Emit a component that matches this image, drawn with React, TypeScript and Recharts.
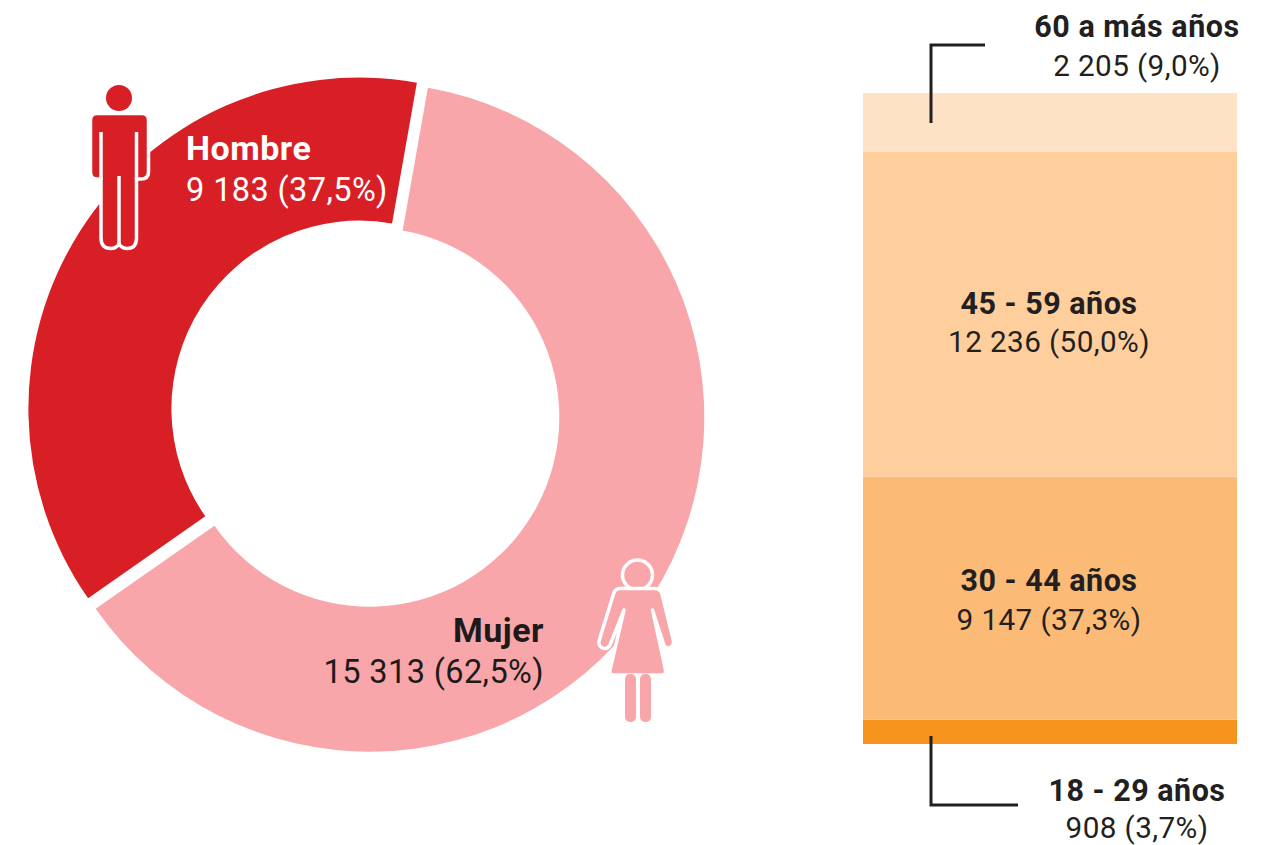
import { Bar, BarChart, Cell, Pie, PieChart, XAxis, YAxis } from "recharts";

const sexes = ["Mujer", "Hombre"];
const sexCounts = [15313, 9183];
const sexPercents = ["62,5%", "37,5%"];

// bottom of the stack first
const ageGroups = ["18 - 29 años", "30 - 44 años", "45 - 59 años", "60 a más años"];
const ageCounts = [908, 9147, 12236, 2205];
const agePercents = ["3,7%", "37,3%", "50,0%", "9,0%"];

const SEX_COLORS = ["#f8a6a9", "#d81f26"];
const AGE_COLORS = ["#f7941d", "#fbbb77", "#fecf9d", "#fee2c6"];
const INK = "#231f20";

const pieData = sexes.map((name, i) => ({ name, value: sexCounts[i] }));
const stackRow: Record<string, string | number> = { row: "edad" };
ageGroups.forEach((g, i) => {
  stackRow[g] = ageCounts[i];
});
const ageTotal = ageCounts.reduce((a, b) => a + b, 0);

const fmt = (n: number) => String(n).replace(/\B(?=(\d{3})+$)/g, " ");
const valueLine = (n: number, pct: string) => `${fmt(n)} (${pct})`;

const fontFamily = "Roboto, sans-serif";

function Label({
  x,
  y,
  title,
  value,
  anchor,
  color = INK,
  titleSize = 30.5,
  valueSize = 29.7,
  gap = 38.5,
}: {
  x: number;
  y: number;
  title: string;
  value: string;
  anchor: "start" | "middle" | "end";
  color?: string;
  titleSize?: number;
  valueSize?: number;
  gap?: number;
}) {
  return (
    <g fill={color} textAnchor={anchor} fontFamily={fontFamily}>
      <text x={x} y={y} fontSize={titleSize} fontWeight={700} letterSpacing={0.5}>
        {title}
      </text>
      <text x={x} y={y + gap} fontSize={valueSize} fontWeight={400} letterSpacing={0.4}>
        {value}
      </text>
    </g>
  );
}

function ManIcon() {
  const red = SEX_COLORS[1];
  return (
    <g>
      <circle cx={119} cy={98} r={13} fill={red} />
      <path
        d="M90.5 120 Q90.5 113.5 97 113.5 H142 Q148.5 113.5 148.5 120 V172 Q148.5 179 141 179 H136.5 V238 Q136.5 248.5 127 248.5 Q122 248.5 119 244 Q116 248.5 111 248.5 Q101 248.5 101 238 V179 H97 Q90.5 179 90.5 172 Z"
        fill={red}
        stroke="#fff"
        strokeWidth={3.5}
      />
      <path d="M101 132 V179 M136.5 132 V179 M119 176 V245" fill="none" stroke="#fff" strokeWidth={3.5} />
    </g>
  );
}

function WomanIcon() {
  const pink = SEX_COLORS[0];
  return (
    <g>
      <circle cx={637.5} cy={575} r={15} fill={pink} stroke="#fff" strokeWidth={3.5} />
      <path
        d="M620 588.5 H655 Q660 588.5 662 594 L673.5 641 Q674 647 668.5 648 Q665 648 663.5 644 L652.5 610 L665.5 670 Q666 675 662 675 H613 Q609 675 610 670 L624 610 L610 645 Q607 650 602.5 648 Q598 645.5 599 641 L613.5 594 Q615 588.5 620 588.5 Z"
        fill={pink}
        stroke="#fff"
        strokeWidth={3.5}
        strokeLinejoin="round"
      />
      <rect x={625} y={674} width={11} height={48} rx={5} fill={pink} />
      <rect x={640} y={674} width={11} height={48} rx={5} fill={pink} />
    </g>
  );
}

export default function App() {
  return (
    <div style={{ position: "absolute", left: 0, top: 0, width: 1268, height: 845, background: "#fff", overflow: "hidden" }}>
      <div style={{ position: "absolute", left: 863, top: 93 }}>
        <BarChart
          width={374}
          height={651}
          data={[stackRow]}
          margin={{ top: 0, right: 0, bottom: 0, left: 0 }}
          barCategoryGap={0}
        >
          <XAxis dataKey="row" hide />
          <YAxis hide domain={[0, ageTotal]} />
          {ageGroups.map((g, i) => (
            <Bar key={g} dataKey={g} stackId="edad" fill={AGE_COLORS[i]} isAnimationActive={false} />
          ))}
        </BarChart>
      </div>

      <div style={{ position: "absolute", left: 0, top: 0 }}>
        <PieChart width={800} height={845} margin={{ top: 0, right: 0, bottom: 0, left: 0 }}>
          {/* the two slices are pulled apart, so each gets its own centre */}
          <Pie
            data={pieData}
            dataKey="value"
            nameKey="name"
            cx={369.8}
            cy={417.2}
            outerRadius={334.5}
            innerRadius={189.5}
            startAngle={80}
            endAngle={-280}
            stroke="none"
            isAnimationActive={false}
          >
            {pieData.map((d, i) => (
              <Cell key={d.name} fill={i === 0 ? SEX_COLORS[0] : "none"} />
            ))}
          </Pie>
          <Pie
            data={pieData}
            dataKey="value"
            nameKey="name"
            cx={359.4}
            cy={408.6}
            outerRadius={331}
            innerRadius={188}
            startAngle={80}
            endAngle={-280}
            stroke="none"
            isAnimationActive={false}
          >
            {pieData.map((d, i) => (
              <Cell key={d.name} fill={i === 1 ? SEX_COLORS[1] : "none"} />
            ))}
          </Pie>
        </PieChart>
      </div>

      <svg width={1268} height={845} style={{ position: "absolute", left: 0, top: 0 }}>
        <ManIcon />
        <WomanIcon />

        <Label x={186} y={160} title={sexes[1]} value={valueLine(sexCounts[1], sexPercents[1])} anchor="start" color="#fff" titleSize={34} valueSize={32.5} gap={41} />
        <Label x={544} y={642} title={sexes[0]} value={valueLine(sexCounts[0], sexPercents[0])} anchor="end" color="#1d1a1b" titleSize={34} valueSize={32.5} gap={41} />

        <Label x={1137} y={37} title={ageGroups[3]} value={valueLine(ageCounts[3], agePercents[3])} anchor="middle" />
        <Label x={1049} y={313.5} title={ageGroups[2]} value={valueLine(ageCounts[2], agePercents[2])} anchor="middle" />
        <Label x={1049} y={591} title={ageGroups[1]} value={valueLine(ageCounts[1], agePercents[1])} anchor="middle" />
        <Label x={1137} y={800.5} title={ageGroups[0]} value={valueLine(ageCounts[0], agePercents[0])} anchor="middle" gap={37} />

        <path d="M985 45 H931 V123" fill="none" stroke={INK} strokeWidth={3} />
        <path d="M931 736 V805 H1018" fill="none" stroke={INK} strokeWidth={3} />
      </svg>
    </div>
  );
}
